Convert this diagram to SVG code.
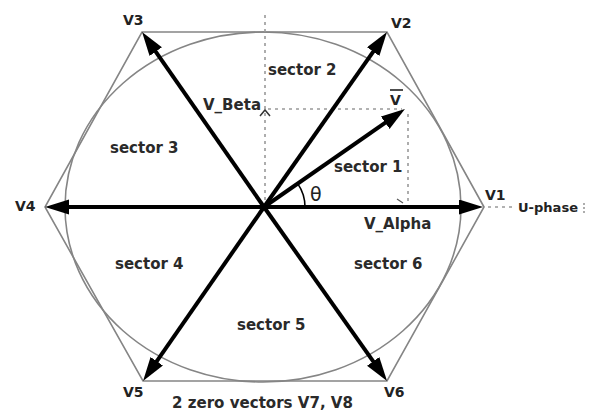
<svg xmlns="http://www.w3.org/2000/svg" width="594" height="414" viewBox="0 0 594 414">
  <style>
    .lbl { font-family: "DejaVu Sans", "Liberation Sans", sans-serif; font-weight: bold; fill: #222; }
    .v { font-size: 14px; }
    .sec { font-size: 15px; fill: #2a2a2a; }
    .edge { fill: none; stroke: #858585; stroke-width: 1.6; }
    .vec { stroke: #000; stroke-width: 4; fill: none; }
    .dot { stroke: #999; stroke-width: 1.6; stroke-dasharray: 3 4; fill: none; }
  </style>
  <defs>
    <marker id="ah" markerUnits="userSpaceOnUse" markerWidth="26" markerHeight="16" refX="12" refY="7.5" orient="auto">
      <path d="M0,0 L24,7.5 L0,15 z" fill="#000"/>
    </marker>
  </defs>
  <rect width="594" height="414" fill="#fff"/>

  <g id="hexagon">
    <polygon class="edge" points="484,207 387,32 142,32 45,207 143,381 387,381"/>
  </g>
  <g id="circle">
    <ellipse class="edge" cx="263" cy="207" rx="198" ry="175"/>
  </g>

  <g id="projections">
    <line class="dot" x1="265" y1="15" x2="265" y2="205"/>
    <line class="dot" x1="268" y1="109" x2="402" y2="109"/>
    <line class="dot" x1="408" y1="114" x2="408" y2="205"/>
    <line class="dot" x1="488" y1="207" x2="514" y2="207"/>
    <path d="M260,116 L265,110 L270,116" fill="none" stroke="#333" stroke-width="1.5"/>
    <path d="M397,199 L403,203" fill="none" stroke="#555" stroke-width="1.2"/>
    <line x1="584" y1="203" x2="584" y2="213" stroke="#777" stroke-width="1.2" stroke-dasharray="2 2"/>
  </g>

  <g id="connectors">
    <line class="vec" x1="264" y1="207" x2="471" y2="207" marker-end="url(#ah)"/>
    <line class="vec" x1="264" y1="207" x2="380.1" y2="41.8" marker-end="url(#ah)"/>
    <line class="vec" x1="264" y1="207" x2="148.9" y2="41.8" marker-end="url(#ah)"/>
    <line class="vec" x1="264" y1="207" x2="57" y2="207" marker-end="url(#ah)"/>
    <line class="vec" x1="264" y1="207" x2="149.9" y2="371.1" marker-end="url(#ah)"/>
    <line class="vec" x1="264" y1="207" x2="380.1" y2="371.2" marker-end="url(#ah)"/>
    <line class="vec" x1="264" y1="207" x2="395.1" y2="115.9" stroke-width="3.5" marker-end="url(#ah)"/>
  </g>

  <g id="theta">
    <path d="M305,207 A41,41 0 0 0 297.7,183.6" fill="none" stroke="#000" stroke-width="1.6"/>
    <text x="310" y="201" font-family="DejaVu Sans, sans-serif" font-size="19" fill="#222">θ</text>
  </g>

  <g id="V1"><text class="lbl v" x="485" y="200">V1</text></g>
  <g id="V2"><text class="lbl v" x="391" y="28">V2</text></g>
  <g id="V3"><text class="lbl v" x="123" y="25">V3</text></g>
  <g id="V4"><text class="lbl v" x="15" y="211">V4</text></g>
  <g id="V5"><text class="lbl v" x="123" y="397">V5</text></g>
  <g id="V6"><text class="lbl v" x="384" y="397">V6</text></g>
  <g id="Vref">
    <text class="lbl v" x="390" y="105">V</text>
    <line x1="390" y1="90" x2="403" y2="90" stroke="#222" stroke-width="1.6"/>
  </g>

  <g id="axis-labels">
    <text class="lbl sec" x="203" y="110">V_Beta</text>
    <text class="lbl sec" x="364" y="229">V_Alpha</text>
    <text class="lbl" x="518" y="212" font-size="13" fill="#666" textLength="60" lengthAdjust="spacingAndGlyphs">U-phase</text>
  </g>

  <g id="sectors">
    <text class="lbl sec" x="334" y="172">sector 1</text>
    <text class="lbl sec" x="268" y="75">sector 2</text>
    <text class="lbl sec" x="110" y="153">sector 3</text>
    <text class="lbl sec" x="115" y="269">sector 4</text>
    <text class="lbl sec" x="237" y="330">sector 5</text>
    <text class="lbl sec" x="354" y="269">sector 6</text>
  </g>

  <g id="zero-vectors">
    <text class="lbl sec" x="172" y="408" textLength="181" lengthAdjust="spacingAndGlyphs">2 zero vectors V7, V8</text>
  </g>
</svg>
